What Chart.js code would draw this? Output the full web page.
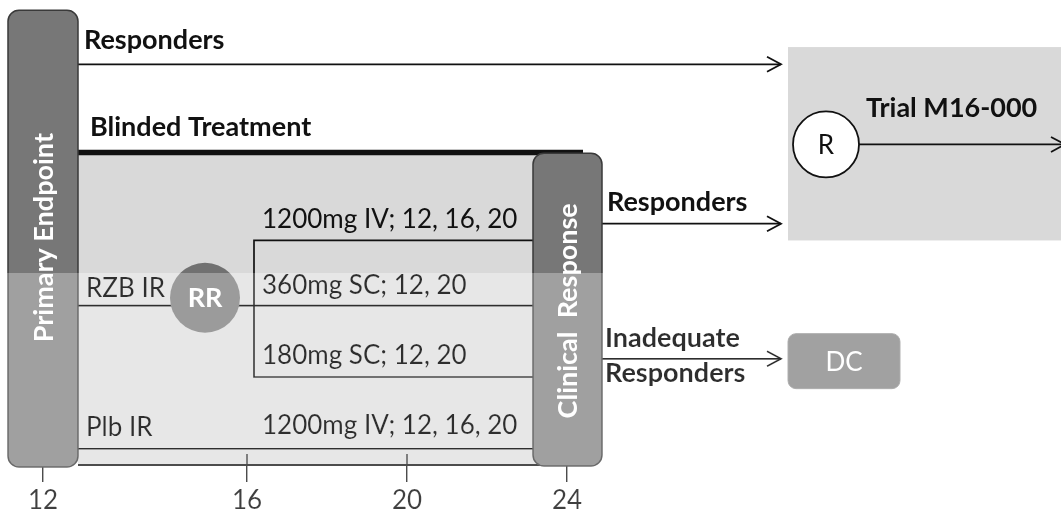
<!DOCTYPE html>
<html>
<head>
<meta charset="utf-8">
<script src="https://cdn.jsdelivr.net/npm/chart.js@4/dist/chart.umd.min.js"></script>
<style>
  html, body { margin: 0; padding: 0; background: #ffffff; }
  #wrap { width: 1061px; height: 512px; }
</style>
</head>
<body>
<div id="wrap"><canvas id="c" width="1061" height="512"></canvas></div>
<script>
// ---------- data (x = study week on the schematic axis, y = lane units 0..100) ----------
const tickValues = [10.9, 16, 20, 24];
const tickLabels = ['12', '16', '20', '24'];

// assessment bars
const phaseNames  = ['Primary Endpoint', 'Clinical  Response'];
const phaseFrom   = [10.025, 23.15];
const phaseTo     = [11.775, 24.875];
const phaseTop    = [97.8, 67.1];
const phaseBottom = [-0.2, 0];
const phaseLabelY = [49.0, 33.3];

// blinded treatment period
const blindedTitle = 'Blinded Treatment';
const blindedFrom = 11.775;
const blindedTo = 23.6;
const blindedBarTo = 24.4;
const blindedTop = 67.3;

// randomised groups
const groupNames  = ['RZB IR', 'Plb IR'];
const groupLaneY  = [34.4, 3.7];
const groupLabelY = [38.1, 8.2];

// treatment arms (dose; dosing weeks)
const armDoses  = ['1200mg IV; 12, 16, 20', '360mg SC; 12, 20', '180mg SC; 12, 20', '1200mg IV; 12, 16, 20'];
const armLaneY  = [48.4, 34.4, 19.1, 3.7];
const armLabelY = [52.9, 38.7, 23.7, 8.6];
const rerandomWeek = 16.175;

// re-randomisation node
const rrName = 'RR';
const rrPoint = [14.95, 36.1];

// flows out of the assessments
const flowNames  = [['Responders'], ['Responders'], ['Inadequate', 'Responders']];
const flowFromX  = [11.7, 24.875, 24.875];
const flowToX    = [29.35, 29.35, 29.35];
const flowY      = [86.2, 52.0, 23.0];
const flowLabelX = [11.925, 25.0, 24.95];
const flowLabelY = [[91.4], [56.6], [27.3, 19.8]];

// destinations
const trialName = 'Trial M16-000';
const trialBox = [29.525, 36.4, 89.9, 48.4];   // from, to, top, bottom
const trialR = [30.475, 69.0];
const trialArrowTo = 36.45;
const dcName = 'DC';
const dcBox = [29.525, 32.325, 28.4, 16.6];

// ---------- drawing ----------
const FONT = 'Lato, "Open Sans", sans-serif';
const FS = 26;      // regular text
const FB = 27;      // bold text

function seg(x0, y0, x1, y1) { return [{x: x0, y: y0}, {x: x1, y: y1}]; }

const lineDs = (data, width) => ({
  type: 'scatter', data, showLine: true, borderColor: '#111', borderWidth: width || 1.7,
  pointRadius: 0, tension: 0, order: 5, clip: false
});

const datasets = [
  { type: 'scatter', data: [{x: rrPoint[0], y: rrPoint[1]}], pointRadius: 35, pointBackgroundColor: '#717171',
    pointBorderColor: '#717171', pointBorderWidth: 0, order: 0, clip: false },
  { type: 'scatter', data: [{x: trialR[0], y: trialR[1]}], pointRadius: 33, pointBackgroundColor: '#ffffff',
    pointBorderColor: '#111', pointBorderWidth: 1.8, order: 0, clip: false },
  lineDs(seg(blindedFrom, groupLaneY[0], phaseFrom[1], groupLaneY[0])),
  lineDs(seg(blindedFrom, groupLaneY[1], phaseFrom[1], groupLaneY[1])),
  lineDs([{x: phaseFrom[1], y: armLaneY[0]}, {x: rerandomWeek, y: armLaneY[0]},
          {x: rerandomWeek, y: armLaneY[2]}, {x: phaseFrom[1], y: armLaneY[2]}]),
  lineDs(seg(flowFromX[0], flowY[0], flowToX[0], flowY[0])),
  lineDs(seg(flowFromX[1], flowY[1], flowToX[1], flowY[1])),
  lineDs(seg(flowFromX[2], flowY[2], flowToX[2], flowY[2])),
  lineDs(seg(trialR[0], trialR[1], trialArrowTo, trialR[1])),
  lineDs(seg(blindedFrom, blindedTop, blindedBarTo, blindedTop), 5.5)
];

function roundBox(ctx, x0, y0, x1, y1, r, fill, stroke, lw) {
  ctx.beginPath();
  ctx.roundRect(x0, y0, x1 - x0, y1 - y0, r);
  ctx.fillStyle = fill; ctx.fill();
  if (stroke) { ctx.strokeStyle = stroke; ctx.lineWidth = lw; ctx.stroke(); }
}

function arrowHead(ctx, x, y) {
  ctx.beginPath();
  ctx.moveTo(x - 14, y - 7.5);
  ctx.lineTo(x, y);
  ctx.lineTo(x - 14, y + 7.5);
  ctx.strokeStyle = '#111'; ctx.lineWidth = 1.8; ctx.stroke();
}

const diagramPlugin = {
  id: 'diagram',
  beforeDraw(chart) {
    const {ctx} = chart;
    ctx.save();
    ctx.fillStyle = '#ffffff';
    ctx.fillRect(0, 0, chart.width, chart.height);
    ctx.restore();
  },
  beforeDatasetsDraw(chart) {
    const {ctx, scales: {x, y}} = chart;
    const X = v => x.getPixelForValue(v), Y = v => y.getPixelForValue(v);
    ctx.save();
    ctx.fillStyle = '#d9d9d9';
    ctx.fillRect(X(blindedFrom), Y(blindedTop), X(blindedTo) - X(blindedFrom), Y(0) - Y(blindedTop));
    ctx.beginPath();
    ctx.moveTo(X(blindedFrom), Y(0) - 1);
    ctx.lineTo(X(blindedTo), Y(0) - 1);
    ctx.strokeStyle = '#222'; ctx.lineWidth = 2; ctx.stroke();
    tickValues.forEach(v => {
      ctx.beginPath();
      ctx.moveTo(X(v), Y(0));
      ctx.lineTo(X(v), Y(0) - 12);
      ctx.strokeStyle = '#222'; ctx.lineWidth = 1.5; ctx.stroke();
    });
    ctx.fillStyle = '#d9d9d9';
    ctx.fillRect(X(trialBox[0]), Y(trialBox[2]), X(trialBox[1]) - X(trialBox[0]), Y(trialBox[3]) - Y(trialBox[2]));
    ctx.restore();
  },
  afterDatasetsDraw(chart) {
    const {ctx, scales: {x, y}} = chart;
    const X = v => x.getPixelForValue(v), Y = v => y.getPixelForValue(v);
    ctx.save();
    phaseNames.forEach((name, i) => {
      roundBox(ctx, X(phaseFrom[i]), Y(phaseTop[i]), X(phaseTo[i]), Y(phaseBottom[i]), 11, '#777777', '#3a3a3a', 1.5);
      ctx.save();
      ctx.translate((X(phaseFrom[i]) + X(phaseTo[i])) / 2, Y(phaseLabelY[i]));
      ctx.rotate(-Math.PI / 2);
      ctx.fillStyle = '#ffffff';
      ctx.font = 'bold ' + FB + 'px ' + FONT;
      ctx.textAlign = 'center'; ctx.textBaseline = 'middle';
      ctx.fillText(name, 0, 1);
      ctx.restore();
    });
    roundBox(ctx, X(dcBox[0]), Y(dcBox[2]), X(dcBox[1]), Y(dcBox[3]), 8, '#787878', '#888888', 1);
    ctx.fillStyle = '#ffffff';
    ctx.font = FS + 'px ' + FONT;
    ctx.textAlign = 'center'; ctx.textBaseline = 'middle';
    ctx.fillText(dcName, (X(dcBox[0]) + X(dcBox[1])) / 2, (Y(dcBox[2]) + Y(dcBox[3])) / 2 + 1);
    ctx.font = 'bold ' + FB + 'px ' + FONT;
    ctx.fillText(rrName, X(rrPoint[0]), Y(rrPoint[1]) + 1);
    ctx.fillStyle = '#111';
    ctx.font = FS + 'px ' + FONT;
    ctx.fillText('R', X(trialR[0]), Y(trialR[1]) + 1);
    flowToX.forEach((v, i) => arrowHead(ctx, X(v), Y(flowY[i])));
    arrowHead(ctx, X(trialArrowTo), Y(trialR[1]));
    ctx.textAlign = 'left'; ctx.textBaseline = 'middle';
    ctx.fillStyle = '#111';
    ctx.font = 'bold ' + FB + 'px ' + FONT;
    flowNames.forEach((lines, i) => lines.forEach((t, j) => ctx.fillText(t, X(flowLabelX[i]), Y(flowLabelY[i][j]))));
    ctx.fillText(blindedTitle, X(12.075), Y(72.7));
    ctx.fillText(trialName, X(31.475), Y(76.8));
    ctx.font = FS + 'px ' + FONT;
    armDoses.forEach((t, i) => ctx.fillText(t, X(16.375), Y(armLabelY[i])));
    groupNames.forEach((t, i) => ctx.fillText(t, X(11.975), Y(groupLabelY[i])));
    ctx.restore();
  },
  afterDraw(chart) {
    // the lower half of the schematic is printed lighter
    const {ctx, scales: {y}} = chart;
    ctx.save();
    ctx.globalCompositeOperation = 'soft-light';
    ctx.fillStyle = 'rgb(222,222,222)';
    const top = Math.round(y.getPixelForValue(41.5));
    ctx.fillRect(0, top, chart.width, chart.height - top);
    ctx.restore();
  }
};

new Chart(document.getElementById('c'), {
  type: 'scatter',
  data: { datasets },
  options: {
    responsive: false,
    devicePixelRatio: 1,
    animation: false,
    events: [],
    layout: { padding: 0, autoPadding: false },
    plugins: { legend: { display: false }, tooltip: { enabled: false } },
    scales: {
      x: {
        type: 'linear', min: 9.825, max: 36.35,
        afterBuildTicks: s => { s.ticks = tickValues.map(v => ({ value: v })); },
        afterFit: s => { s.height = 46; },
        ticks: {
          autoSkip: false, maxRotation: 0, padding: 6, color: '#1a1a1a',
          font: { family: FONT, size: FS, lineHeight: 1 },
          callback: (v, i) => tickLabels[i]
        },
        grid: { display: true, drawOnChartArea: false, drawTicks: true, tickLength: 16, color: '#222', lineWidth: 1.5 },
        border: { display: false }
      },
      y: { type: 'linear', min: 0, max: 100, display: false }
    }
  },
  plugins: [diagramPlugin]
});
</script>
</body>
</html>
